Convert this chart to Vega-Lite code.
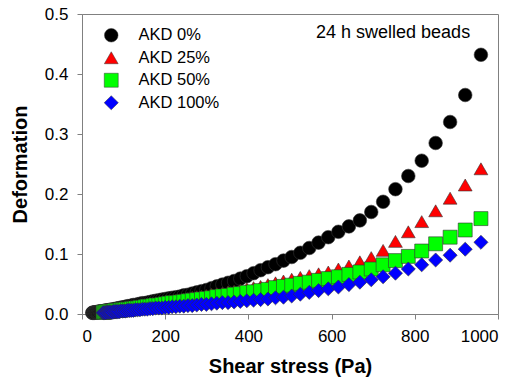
{
"$schema":"https://vega.github.io/schema/vega-lite/v6.json",
"width":416,"height":300,
"autosize":{"type":"none"},
"padding":{"left":82,"top":14,"right":22,"bottom":72},
"background":"white",
"config":{
"view":{"stroke":"#808080","strokeWidth":1},
"axis":{"domainColor":"#808080","tickColor":"#808080","grid":false,"labelFont":"Liberation Sans","labelFontSize":17,"labelColor":"#000","titleFont":"Liberation Sans","titleFontSize":20,"titleFontWeight":"bold","titleColor":"#000","tickSize":5,"labelPadding":9},
"legend":{"padding":0,"labelFont":"Liberation Sans","labelFontSize":16.5,"labelColor":"#000","symbolSize":180,"labelOffset":19,"rowPadding":5.5,"symbolStrokeColor":"#333","symbolStrokeWidth":0.5}
},
"layer":[
{"data":{"values":[
{"g":"AKD 0%","x":24.7,"y":0.002},{"g":"AKD 0%","x":25.7,"y":0.002},{"g":"AKD 0%","x":26.8,"y":0.002},{"g":"AKD 0%","x":27.9,"y":0.002},{"g":"AKD 0%","x":29.0,"y":0.002},{"g":"AKD 0%","x":30.2,"y":0.002},{"g":"AKD 0%","x":31.4,"y":0.003},{"g":"AKD 0%","x":32.7,"y":0.003},{"g":"AKD 0%","x":34.0,"y":0.003},{"g":"AKD 0%","x":35.4,"y":0.003},{"g":"AKD 0%","x":36.9,"y":0.003},{"g":"AKD 0%","x":38.4,"y":0.003},{"g":"AKD 0%","x":40.0,"y":0.003},{"g":"AKD 0%","x":41.6,"y":0.004},{"g":"AKD 0%","x":43.3,"y":0.004},{"g":"AKD 0%","x":45.1,"y":0.004},{"g":"AKD 0%","x":46.9,"y":0.004},{"g":"AKD 0%","x":48.8,"y":0.004},
{"g":"AKD 0%","x":50.8,"y":0.005},{"g":"AKD 0%","x":52.9,"y":0.005},{"g":"AKD 0%","x":55.1,"y":0.005},{"g":"AKD 0%","x":57.4,"y":0.005},{"g":"AKD 0%","x":59.8,"y":0.006},{"g":"AKD 0%","x":62.2,"y":0.006},{"g":"AKD 0%","x":64.8,"y":0.006},{"g":"AKD 0%","x":67.5,"y":0.007},{"g":"AKD 0%","x":70.3,"y":0.007},{"g":"AKD 0%","x":73.2,"y":0.007},{"g":"AKD 0%","x":76.2,"y":0.008},{"g":"AKD 0%","x":79.3,"y":0.008},{"g":"AKD 0%","x":82.6,"y":0.009},{"g":"AKD 0%","x":86.0,"y":0.009},{"g":"AKD 0%","x":89.5,"y":0.010},{"g":"AKD 0%","x":93.2,"y":0.010},{"g":"AKD 0%","x":97.0,"y":0.011},{"g":"AKD 0%","x":101.0,"y":0.011},{"g":"AKD 0%","x":105.1,"y":0.012},{"g":"AKD 0%","x":109.4,"y":0.013},{"g":"AKD 0%","x":113.9,"y":0.013},{"g":"AKD 0%","x":118.6,"y":0.014},{"g":"AKD 0%","x":123.5,"y":0.015},{"g":"AKD 0%","x":128.6,"y":0.015},{"g":"AKD 0%","x":133.9,"y":0.016},{"g":"AKD 0%","x":139.4,"y":0.017},{"g":"AKD 0%","x":145.1,"y":0.018},{"g":"AKD 0%","x":151.0,"y":0.018},{"g":"AKD 0%","x":157.2,"y":0.019},{"g":"AKD 0%","x":163.6,"y":0.020},{"g":"AKD 0%","x":170.3,"y":0.021},{"g":"AKD 0%","x":177.3,"y":0.022},{"g":"AKD 0%","x":184.6,"y":0.023},{"g":"AKD 0%","x":192.2,"y":0.024},{"g":"AKD 0%","x":200.1,"y":0.025},{"g":"AKD 0%","x":208.3,"y":0.026},{"g":"AKD 0%","x":216.8,"y":0.027},{"g":"AKD 0%","x":225.7,"y":0.028},{"g":"AKD 0%","x":235.0,"y":0.029},{"g":"AKD 0%","x":244.6,"y":0.031},{"g":"AKD 0%","x":254.6,"y":0.032},{"g":"AKD 0%","x":265.0,"y":0.034},{"g":"AKD 0%","x":275.9,"y":0.036},{"g":"AKD 0%","x":287.2,"y":0.038},{"g":"AKD 0%","x":299.0,"y":0.040},{"g":"AKD 0%","x":311.3,"y":0.043},{"g":"AKD 0%","x":324.1,"y":0.046},{"g":"AKD 0%","x":337.4,"y":0.049},{"g":"AKD 0%","x":351.2,"y":0.052},{"g":"AKD 0%","x":365.6,"y":0.055},{"g":"AKD 0%","x":380.6,"y":0.059},{"g":"AKD 0%","x":396.2,"y":0.063},{"g":"AKD 0%","x":412.4,"y":0.068},{"g":"AKD 0%","x":429.3,"y":0.073},{"g":"AKD 0%","x":446.9,"y":0.078},{"g":"AKD 0%","x":465.2,"y":0.083},{"g":"AKD 0%","x":484.3,"y":0.089},{"g":"AKD 0%","x":504.1,"y":0.095},{"g":"AKD 0%","x":524.8,"y":0.102},{"g":"AKD 0%","x":546.3,"y":0.110},{"g":"AKD 0%","x":568.7,"y":0.119},{"g":"AKD 0%","x":592.0,"y":0.128},{"g":"AKD 0%","x":616.3,"y":0.137},{"g":"AKD 0%","x":641.6,"y":0.146},{"g":"AKD 0%","x":667.9,"y":0.156},{"g":"AKD 0%","x":695.3,"y":0.170},{"g":"AKD 0%","x":723.8,"y":0.187},{"g":"AKD 0%","x":753.5,"y":0.208},{"g":"AKD 0%","x":784.4,"y":0.230},{"g":"AKD 0%","x":816.6,"y":0.2555},{"g":"AKD 0%","x":850.1,"y":0.285},{"g":"AKD 0%","x":884.9,"y":0.320},{"g":"AKD 0%","x":921.2,"y":0.365},{"g":"AKD 0%","x":959.0,"y":0.432},
{"g":"AKD 25%","x":50.8,"y":0.004},{"g":"AKD 25%","x":52.9,"y":0.004},{"g":"AKD 25%","x":55.1,"y":0.005},{"g":"AKD 25%","x":57.4,"y":0.005},{"g":"AKD 25%","x":59.8,"y":0.005},{"g":"AKD 25%","x":62.2,"y":0.005},{"g":"AKD 25%","x":64.8,"y":0.006},{"g":"AKD 25%","x":67.5,"y":0.006},{"g":"AKD 25%","x":70.3,"y":0.006},{"g":"AKD 25%","x":73.2,"y":0.007},{"g":"AKD 25%","x":76.2,"y":0.007},{"g":"AKD 25%","x":79.3,"y":0.007},{"g":"AKD 25%","x":82.6,"y":0.008},{"g":"AKD 25%","x":86.0,"y":0.008},{"g":"AKD 25%","x":89.5,"y":0.009},{"g":"AKD 25%","x":93.2,"y":0.009},{"g":"AKD 25%","x":97.0,"y":0.010},{"g":"AKD 25%","x":101.0,"y":0.010},{"g":"AKD 25%","x":105.1,"y":0.010},{"g":"AKD 25%","x":109.4,"y":0.011},{"g":"AKD 25%","x":113.9,"y":0.011},{"g":"AKD 25%","x":118.6,"y":0.012},{"g":"AKD 25%","x":123.5,"y":0.012},{"g":"AKD 25%","x":128.6,"y":0.013},{"g":"AKD 25%","x":133.9,"y":0.013},{"g":"AKD 25%","x":139.4,"y":0.014},{"g":"AKD 25%","x":145.1,"y":0.014},{"g":"AKD 25%","x":151.0,"y":0.015},{"g":"AKD 25%","x":157.2,"y":0.016},{"g":"AKD 25%","x":163.6,"y":0.016},{"g":"AKD 25%","x":170.3,"y":0.017},{"g":"AKD 25%","x":177.3,"y":0.018},{"g":"AKD 25%","x":184.6,"y":0.018},{"g":"AKD 25%","x":192.2,"y":0.019},{"g":"AKD 25%","x":200.1,"y":0.020},{"g":"AKD 25%","x":208.3,"y":0.021},{"g":"AKD 25%","x":216.8,"y":0.022},{"g":"AKD 25%","x":225.7,"y":0.023},{"g":"AKD 25%","x":235.0,"y":0.024},{"g":"AKD 25%","x":244.6,"y":0.025},{"g":"AKD 25%","x":254.6,"y":0.026},{"g":"AKD 25%","x":265.0,"y":0.028},{"g":"AKD 25%","x":275.9,"y":0.029},{"g":"AKD 25%","x":287.2,"y":0.030},{"g":"AKD 25%","x":299.0,"y":0.031},{"g":"AKD 25%","x":311.3,"y":0.033},{"g":"AKD 25%","x":324.1,"y":0.034},{"g":"AKD 25%","x":337.4,"y":0.035},{"g":"AKD 25%","x":351.2,"y":0.037},{"g":"AKD 25%","x":365.6,"y":0.038},{"g":"AKD 25%","x":380.6,"y":0.040},{"g":"AKD 25%","x":396.2,"y":0.042},{"g":"AKD 25%","x":412.4,"y":0.044},{"g":"AKD 25%","x":429.3,"y":0.046},{"g":"AKD 25%","x":446.9,"y":0.049},{"g":"AKD 25%","x":465.2,"y":0.052},{"g":"AKD 25%","x":484.3,"y":0.055},{"g":"AKD 25%","x":504.1,"y":0.058},{"g":"AKD 25%","x":524.8,"y":0.061},{"g":"AKD 25%","x":546.3,"y":0.064},{"g":"AKD 25%","x":568.7,"y":0.067},{"g":"AKD 25%","x":592.0,"y":0.070},{"g":"AKD 25%","x":616.3,"y":0.075},{"g":"AKD 25%","x":641.6,"y":0.080},{"g":"AKD 25%","x":667.9,"y":0.087},{"g":"AKD 25%","x":695.3,"y":0.094},{"g":"AKD 25%","x":723.8,"y":0.106},{"g":"AKD 25%","x":753.5,"y":0.121},{"g":"AKD 25%","x":784.4,"y":0.137},{"g":"AKD 25%","x":816.6,"y":0.154},{"g":"AKD 25%","x":850.1,"y":0.172},{"g":"AKD 25%","x":884.9,"y":0.193},{"g":"AKD 25%","x":921.2,"y":0.215},{"g":"AKD 25%","x":959.0,"y":0.242},
{"g":"AKD 50%","x":50.8,"y":0.003},{"g":"AKD 50%","x":52.9,"y":0.003},{"g":"AKD 50%","x":55.1,"y":0.003},{"g":"AKD 50%","x":57.4,"y":0.004},{"g":"AKD 50%","x":59.8,"y":0.004},{"g":"AKD 50%","x":62.2,"y":0.004},{"g":"AKD 50%","x":64.8,"y":0.004},{"g":"AKD 50%","x":67.5,"y":0.005},{"g":"AKD 50%","x":70.3,"y":0.005},{"g":"AKD 50%","x":73.2,"y":0.005},{"g":"AKD 50%","x":76.2,"y":0.005},{"g":"AKD 50%","x":79.3,"y":0.006},{"g":"AKD 50%","x":82.6,"y":0.006},{"g":"AKD 50%","x":86.0,"y":0.006},{"g":"AKD 50%","x":89.5,"y":0.006},{"g":"AKD 50%","x":93.2,"y":0.007},{"g":"AKD 50%","x":97.0,"y":0.007},{"g":"AKD 50%","x":101.0,"y":0.007},{"g":"AKD 50%","x":105.1,"y":0.008},{"g":"AKD 50%","x":109.4,"y":0.008},{"g":"AKD 50%","x":113.9,"y":0.008},{"g":"AKD 50%","x":118.6,"y":0.009},{"g":"AKD 50%","x":123.5,"y":0.009},{"g":"AKD 50%","x":128.6,"y":0.010},{"g":"AKD 50%","x":133.9,"y":0.010},{"g":"AKD 50%","x":139.4,"y":0.011},{"g":"AKD 50%","x":145.1,"y":0.011},{"g":"AKD 50%","x":151.0,"y":0.012},{"g":"AKD 50%","x":157.2,"y":0.013},{"g":"AKD 50%","x":163.6,"y":0.013},{"g":"AKD 50%","x":170.3,"y":0.014},{"g":"AKD 50%","x":177.3,"y":0.015},{"g":"AKD 50%","x":184.6,"y":0.015},{"g":"AKD 50%","x":192.2,"y":0.016},{"g":"AKD 50%","x":200.1,"y":0.017},{"g":"AKD 50%","x":208.3,"y":0.018},{"g":"AKD 50%","x":216.8,"y":0.019},{"g":"AKD 50%","x":225.7,"y":0.019},{"g":"AKD 50%","x":235.0,"y":0.020},{"g":"AKD 50%","x":244.6,"y":0.021},{"g":"AKD 50%","x":254.6,"y":0.022},{"g":"AKD 50%","x":265.0,"y":0.023},{"g":"AKD 50%","x":275.9,"y":0.024},{"g":"AKD 50%","x":287.2,"y":0.025},{"g":"AKD 50%","x":299.0,"y":0.026},{"g":"AKD 50%","x":311.3,"y":0.027},{"g":"AKD 50%","x":324.1,"y":0.029},{"g":"AKD 50%","x":337.4,"y":0.030},{"g":"AKD 50%","x":351.2,"y":0.031},{"g":"AKD 50%","x":365.6,"y":0.033},{"g":"AKD 50%","x":380.6,"y":0.034},{"g":"AKD 50%","x":396.2,"y":0.036},{"g":"AKD 50%","x":412.4,"y":0.037},{"g":"AKD 50%","x":429.3,"y":0.039},{"g":"AKD 50%","x":446.9,"y":0.041},{"g":"AKD 50%","x":465.2,"y":0.044},{"g":"AKD 50%","x":484.3,"y":0.046},{"g":"AKD 50%","x":504.1,"y":0.048},{"g":"AKD 50%","x":524.8,"y":0.051},{"g":"AKD 50%","x":546.3,"y":0.053},{"g":"AKD 50%","x":568.7,"y":0.056},{"g":"AKD 50%","x":592.0,"y":0.059},{"g":"AKD 50%","x":616.3,"y":0.062},{"g":"AKD 50%","x":641.6,"y":0.066},{"g":"AKD 50%","x":667.9,"y":0.070},{"g":"AKD 50%","x":695.3,"y":0.075},{"g":"AKD 50%","x":723.8,"y":0.082},{"g":"AKD 50%","x":753.5,"y":0.089},{"g":"AKD 50%","x":784.4,"y":0.096},{"g":"AKD 50%","x":816.6,"y":0.105},{"g":"AKD 50%","x":850.1,"y":0.117},{"g":"AKD 50%","x":884.9,"y":0.128},{"g":"AKD 50%","x":921.2,"y":0.140},{"g":"AKD 50%","x":959.0,"y":0.159},
{"g":"AKD 100%","x":50.8,"y":0.002},{"g":"AKD 100%","x":52.9,"y":0.002},{"g":"AKD 100%","x":55.1,"y":0.002},{"g":"AKD 100%","x":57.4,"y":0.002},{"g":"AKD 100%","x":59.8,"y":0.003},{"g":"AKD 100%","x":62.2,"y":0.003},{"g":"AKD 100%","x":64.8,"y":0.003},{"g":"AKD 100%","x":67.5,"y":0.003},{"g":"AKD 100%","x":70.3,"y":0.003},{"g":"AKD 100%","x":73.2,"y":0.003},{"g":"AKD 100%","x":76.2,"y":0.004},{"g":"AKD 100%","x":79.3,"y":0.004},{"g":"AKD 100%","x":82.6,"y":0.004},{"g":"AKD 100%","x":86.0,"y":0.004},{"g":"AKD 100%","x":89.5,"y":0.004},{"g":"AKD 100%","x":93.2,"y":0.005},{"g":"AKD 100%","x":97.0,"y":0.005},{"g":"AKD 100%","x":101.0,"y":0.005},{"g":"AKD 100%","x":105.1,"y":0.005},{"g":"AKD 100%","x":109.4,"y":0.006},{"g":"AKD 100%","x":113.9,"y":0.006},{"g":"AKD 100%","x":118.6,"y":0.006},{"g":"AKD 100%","x":123.5,"y":0.006},{"g":"AKD 100%","x":128.6,"y":0.007},{"g":"AKD 100%","x":133.9,"y":0.007},{"g":"AKD 100%","x":139.4,"y":0.007},{"g":"AKD 100%","x":145.1,"y":0.008},{"g":"AKD 100%","x":151.0,"y":0.008},{"g":"AKD 100%","x":157.2,"y":0.008},{"g":"AKD 100%","x":163.6,"y":0.009},{"g":"AKD 100%","x":170.3,"y":0.009},{"g":"AKD 100%","x":177.3,"y":0.010},{"g":"AKD 100%","x":184.6,"y":0.010},{"g":"AKD 100%","x":192.2,"y":0.010},{"g":"AKD 100%","x":200.1,"y":0.011},{"g":"AKD 100%","x":208.3,"y":0.011},{"g":"AKD 100%","x":216.8,"y":0.012},{"g":"AKD 100%","x":225.7,"y":0.012},{"g":"AKD 100%","x":235.0,"y":0.013},{"g":"AKD 100%","x":244.6,"y":0.013},{"g":"AKD 100%","x":254.6,"y":0.014},{"g":"AKD 100%","x":265.0,"y":0.014},{"g":"AKD 100%","x":275.9,"y":0.015},{"g":"AKD 100%","x":287.2,"y":0.016},{"g":"AKD 100%","x":299.0,"y":0.016},{"g":"AKD 100%","x":311.3,"y":0.017},{"g":"AKD 100%","x":324.1,"y":0.018},{"g":"AKD 100%","x":337.4,"y":0.019},{"g":"AKD 100%","x":351.2,"y":0.019},{"g":"AKD 100%","x":365.6,"y":0.020},{"g":"AKD 100%","x":380.6,"y":0.021},{"g":"AKD 100%","x":396.2,"y":0.022},{"g":"AKD 100%","x":412.4,"y":0.023},{"g":"AKD 100%","x":429.3,"y":0.024},{"g":"AKD 100%","x":446.9,"y":0.025},{"g":"AKD 100%","x":465.2,"y":0.027},{"g":"AKD 100%","x":484.3,"y":0.028},{"g":"AKD 100%","x":504.1,"y":0.030},{"g":"AKD 100%","x":524.8,"y":0.033},{"g":"AKD 100%","x":546.3,"y":0.036},{"g":"AKD 100%","x":568.7,"y":0.039},{"g":"AKD 100%","x":592.0,"y":0.042},{"g":"AKD 100%","x":616.3,"y":0.045},{"g":"AKD 100%","x":641.6,"y":0.049},{"g":"AKD 100%","x":667.9,"y":0.053},{"g":"AKD 100%","x":695.3,"y":0.057},{"g":"AKD 100%","x":723.8,"y":0.062},{"g":"AKD 100%","x":753.5,"y":0.068},{"g":"AKD 100%","x":784.4,"y":0.075},{"g":"AKD 100%","x":816.6,"y":0.082},{"g":"AKD 100%","x":850.1,"y":0.090},{"g":"AKD 100%","x":884.9,"y":0.098},{"g":"AKD 100%","x":921.2,"y":0.108},{"g":"AKD 100%","x":959.0,"y":0.1195}
]},
"mark":{"type":"point","filled":true,"opacity":1,"stroke":"#333","strokeWidth":0.6},
"encoding":{
"x":{"field":"x","type":"quantitative","scale":{"domain":[0,1000],"nice":false},"axis":{"title":"Shear stress (Pa)","values":[0,200,400,600,800,1000],"format":"d","labelOverlap":false,"titlePadding":12}},
"y":{"field":"y","type":"quantitative","scale":{"domain":[0,0.5],"nice":false},"axis":{"title":"Deformation","values":[0,0.1,0.2,0.3,0.4,0.5],"format":".1f","titlePadding":14}},
"color":{"field":"g","type":"nominal","scale":{"domain":["AKD 0%","AKD 25%","AKD 50%","AKD 100%"],"range":["#000000","#ff0000","#00ff00","#0000ff"]},"legend":{"title":null,"orient":"none","legendX":21,"legendY":13}},
"shape":{"field":"g","type":"nominal","scale":{"domain":["AKD 0%","AKD 25%","AKD 50%","AKD 100%"],"range":["circle","triangle-up","square","diamond"]},"legend":{"title":null,"orient":"none","legendX":21,"legendY":13}},
"size":{"field":"g","type":"nominal","scale":{"domain":["AKD 0%","AKD 25%","AKD 50%","AKD 100%"],"range":[185,200,165,220]},"legend":null}
}},
{"data":{"values":[{"t":"24 h swelled beads","x":933,"y":0.468}]},
"mark":{"type":"text","align":"right","baseline":"middle","font":"Liberation Sans","fontSize":18,"color":"#000"},
"encoding":{"x":{"field":"x","type":"quantitative"},"y":{"field":"y","type":"quantitative"},"text":{"field":"t"}}}
]
}
